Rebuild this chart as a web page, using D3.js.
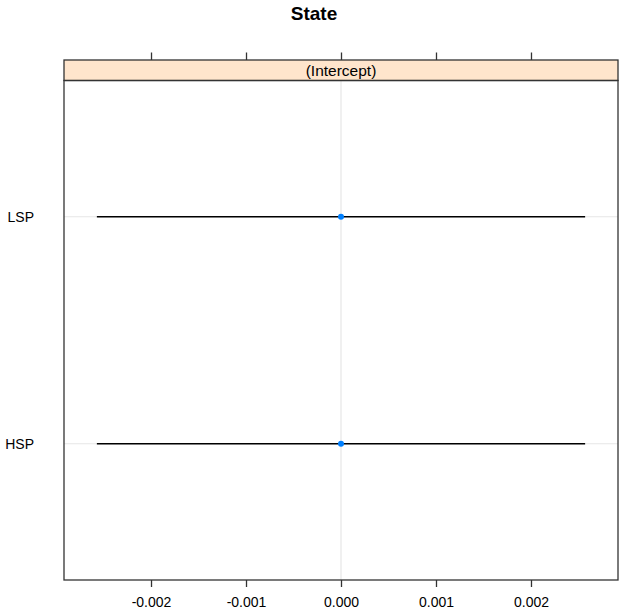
<!DOCTYPE html>
<html><head><meta charset="utf-8">
<script src="https://cdn.jsdelivr.net/npm/d3@7"></script>
<style>body{margin:0;background:#fff;} svg{display:block;font-family:Arial,"Liberation Sans",sans-serif;}</style>
</head><body>
<script>
const categories = ["HSP", "LSP"];
const estimates = [0, 0];
const lower = [-0.00257, -0.00257];
const upper = [0.00257, 0.00257];
const tickValues = [-0.002, -0.001, 0, 0.001, 0.002];
const tickLabels = ["-0.002", "-0.001", "0.000", "0.001", "0.002"];
const title = "State";
const stripLabel = "(Intercept)";

const W = 624, H = 613;
const left = 64, right = 618, stripTop = 60, panelTop = 80.5, bottom = 580;

const svg = d3.select("body").append("svg").attr("width", W).attr("height", H);

const x = d3.scaleLinear().domain([-0.002916, 0.002916]).range([left, right]);
const y = d3.scaleLinear().domain([0.4, categories.length + 0.6]).range([bottom, panelTop]);

svg.append("text").attr("x", 314).attr("y", 19.5).attr("text-anchor", "middle")
  .style("font-weight", "bold").style("font-size", "19px").text(title);

// reference lines
svg.append("line").attr("x1", x(0)).attr("x2", x(0)).attr("y1", panelTop).attr("y2", bottom)
  .attr("stroke", "#e6e6e6").attr("stroke-width", 1.2);
categories.forEach((c, i) => {
  svg.append("line").attr("x1", left).attr("x2", right).attr("y1", y(i + 1)).attr("y2", y(i + 1))
    .attr("stroke", "#e6e6e6").attr("stroke-width", 1.2);
});

// intervals
categories.forEach((c, i) => {
  svg.append("line").attr("x1", x(lower[i])).attr("x2", x(upper[i])).attr("y1", y(i + 1)).attr("y2", y(i + 1))
    .attr("stroke", "#000").attr("stroke-width", 1.3);
  svg.append("circle").attr("cx", x(estimates[i])).attr("cy", y(i + 1)).attr("r", 3).attr("fill", "#0080ff");
});

// strip
svg.append("rect").attr("x", left).attr("y", stripTop).attr("width", right - left).attr("height", panelTop - stripTop)
  .attr("fill", "#ffe5cc").attr("stroke", "#333").attr("stroke-width", 1.3);
svg.append("text").attr("x", (left + right) / 2).attr("y", 76).attr("text-anchor", "middle")
  .style("font-size", "15.5px").text(stripLabel);

// panel border
svg.append("rect").attr("x", left).attr("y", panelTop).attr("width", right - left).attr("height", bottom - panelTop)
  .attr("fill", "none").attr("stroke", "#333").attr("stroke-width", 1.3);

// bottom axis
const bAxis = d3.axisBottom(x).tickValues(tickValues).tickFormat((d, i) => tickLabels[i]).tickSizeOuter(0).tickSize(7).tickPadding(10);
const gb = svg.append("g").attr("transform", `translate(0,${bottom})`).call(bAxis);
gb.select(".domain").remove();
gb.selectAll("line").attr("stroke", "#333").attr("stroke-width", 1.3);
gb.selectAll("text").style("font-size", "14px").attr("fill", "#000").style("font-family", "Arial, 'Liberation Sans', sans-serif");

// top axis ticks (no labels)
const tAxis = d3.axisTop(x).tickValues(tickValues).tickFormat("").tickSizeOuter(0).tickSize(7.5);
const gt = svg.append("g").attr("transform", `translate(0,${stripTop})`).call(tAxis);
gt.select(".domain").remove();
gt.selectAll("line").attr("stroke", "#333").attr("stroke-width", 1.3);

// y labels
categories.forEach((c, i) => {
  svg.append("text").attr("x", 34).attr("y", y(i + 1)).attr("dy", "0.35em").attr("text-anchor", "end")
    .style("font-size", "14px").text(c);
});
</script>
</body></html>
